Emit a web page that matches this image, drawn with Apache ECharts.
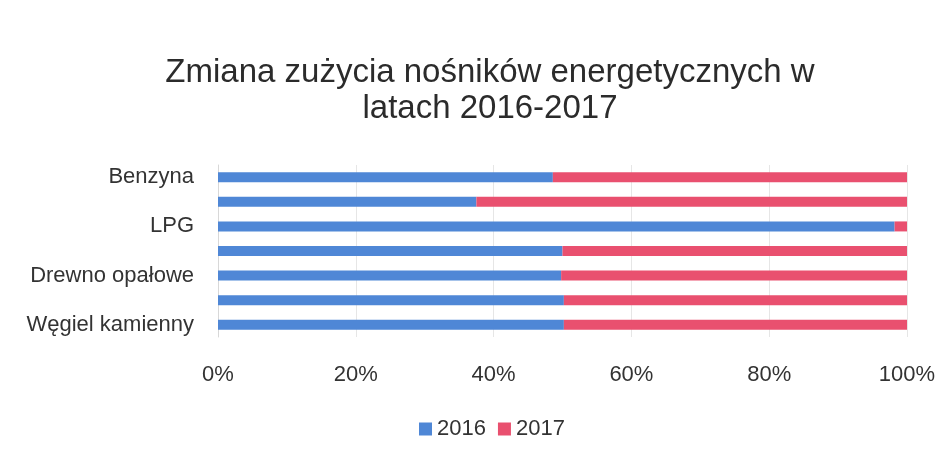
<!DOCTYPE html>
<html>
<head>
<meta charset="utf-8">
<script src="https://cdn.jsdelivr.net/npm/echarts@6/dist/echarts.min.js"></script>
<style>
  html, body { margin: 0; padding: 0; background: #fff; }
  #main { width: 950px; height: 452px; }
</style>
</head>
<body>
<div id="main"></div>
<script>
// kategorie od dołu do góry (co druga etykieta niewidoczna na oryginale)
var categories = ['Węgiel kamienny', 'Węgiel brunatny', 'Drewno opałowe', 'Gaz ziemny', 'LPG', 'Olej napędowy', 'Benzyna'];
var values2016 = [50.2, 50.2, 49.8, 50.0, 98.2, 37.5, 48.6];
var values2017 = [49.8, 49.8, 50.2, 50.0, 1.8, 62.5, 51.4];
var xTicks = ['0%', '20%', '40%', '60%', '80%', '100%'];

var font = "'Liberation Sans', 'Noto Sans', sans-serif";
var chart = echarts.init(document.getElementById('main'), null, { renderer: 'canvas' });

var option = {
  backgroundColor: '#fff',
  color: ['#4f87d6', '#e9506f'],
  title: {
    text: 'Zmiana zużycia nośników energetycznych w\nlatach 2016-2017',
    left: 485,
    textAlign: 'center',
    top: 50,
    textStyle: {
      fontFamily: font,
      fontWeight: 'normal',
      fontSize: 33,
      lineHeight: 36,
      color: '#2b2b2b'
    }
  },
  legend: {
    data: ['2016', '2017'],
    left: 414,
    top: 413,
    itemWidth: 13,
    itemHeight: 13,
    itemGap: 12,
    itemTextGap: 5,
    icon: 'rect',
    textStyle: { fontFamily: font, fontSize: 22, color: '#333' }
  },
  grid: { left: 218, right: 43, top: 165, height: 172 },
  xAxis: {
    type: 'value',
    min: 0,
    max: 100,
    interval: 20,
    axisLine: { show: false },
    axisTick: { show: false },
    splitLine: { lineStyle: { color: '#e6e6e6', width: 1 } },
    axisLabel: {
      margin: 27,
      fontFamily: font,
      fontSize: 22,
      color: '#333',
      formatter: function (v) { return xTicks[Math.round(v / 20)]; }
    }
  },
  yAxis: {
    type: 'category',
    data: categories,
    axisLine: { lineStyle: { color: '#d8d8d8' } },
    axisTick: { show: false },
    axisLabel: {
      interval: 1,
      margin: 24,
      fontFamily: font,
      fontSize: 22,
      color: '#333'
    }
  },
  series: [
    { name: '2016', type: 'bar', stack: 'a', barWidth: 10, data: values2016 },
    { name: '2017', type: 'bar', stack: 'a', barWidth: 10, data: values2017 }
  ]
};
chart.setOption(option);
</script>
</body>
</html>
